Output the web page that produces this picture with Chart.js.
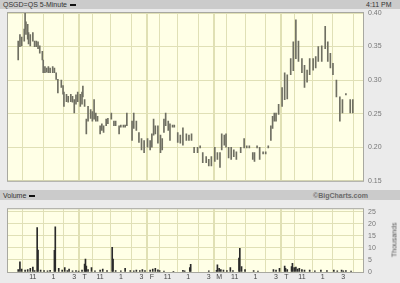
<!DOCTYPE html>
<html>
<head>
<meta charset="utf-8">
<script src="https://cdn.jsdelivr.net/npm/chart.js@4.4.0/dist/chart.umd.min.js"></script>
<style>
    html, body { margin: 0; padding: 0; background: #ebebeb; }
    #wrap { position: relative; width: 400px; height: 283px; overflow: hidden; font-family: "Liberation Sans", Arial, sans-serif; }
    canvas { position: absolute; left: 0; }
    .band { position: absolute; left: 0; width: 400px; background: #cbcbcb; font-size: 7px; color: #333; }
    .band span { position: absolute; top: 1px; white-space: nowrap; }
    .dash { display: inline-block; width: 6px; height: 2px; background: #111; vertical-align: middle; margin-left: 3px; }
    #thou { position: absolute; left: 394px; top: 240px; font-size: 7px; color: #555; transform: translate(-50%, -50%) rotate(-90deg); white-space: nowrap; }
</style>
</head>
<body>
<div id="wrap">
    <canvas id="price" width="400" height="190" style="top:0"></canvas>
    <canvas id="vol" width="400" height="83" style="top:200px"></canvas>
    <div class="band" style="top:0;height:9px">
        <span style="left:3px">QSGD=QS 5-Minute<i class="dash"></i></span>
        <span style="left:366px">4:11 PM</span>
    </div>
    <div class="band" style="top:190px;height:10px">
        <span style="left:3px;top:2px">Volume<i class="dash"></i></span>
        <span style="left:313px;top:2px;color:#6a6a6a;font-weight:bold">©BigCharts.com</span>
    </div>
    <div id="thou">Thousands</div>
</div>
<script>
// 5分钟K线: 每天78根, 共5天
const totalBars = 390;

// x轴刻度 (按K线序号)
const xTickPos = [18, 42, 66, 78, 96, 120, 144, 156, 174, 198, 222, 234, 252, 276, 300, 312, 330, 354, 378];
const xTickLabels = ['11', '1', '3', 'T', '11', '1', '3', 'F', '11', '1', '3', 'M', '11', '1', '3', 'T', '11', '1', '3'];
const dayLines = [78, 156, 234, 312];

const priceTicks = [0.15, 0.20, 0.25, 0.30, 0.35, 0.40];
const volTicks = [0, 5, 10, 15, 20, 25];

// 价格 (最高/最低)
const priceIdx = [1, 3, 5, 8, 9, 10, 12, 13, 15, 18, 20, 22, 24, 26, 29, 30, 32, 34, 36, 38, 41, 43, 45, 47, 51, 53, 54, 57, 59, 62, 64, 66, 68, 70, 73, 75, 76, 78,
    80, 82, 85, 87, 89, 91, 93, 96, 98, 100, 103, 105, 109, 112, 114, 118, 120, 123, 125, 127, 133, 135, 138, 141, 144, 147, 151, 154, 156,
    158, 160, 163, 166, 168, 170, 172, 175, 177, 180, 182, 186, 189, 192, 196, 199, 202, 205, 209, 212, 215, 219, 222, 225, 229, 232, 235,
    237, 240, 242, 245, 248, 251, 254, 259, 263, 266, 269, 273, 275, 278, 281, 285, 288, 291, 294, 296, 298, 300, 303, 307, 310,
    313, 317, 320, 323, 326, 330, 333, 336, 339, 343, 346, 349, 353, 357, 360, 363, 366, 370, 374, 377, 381, 386, 389];
const priceHigh = [0.358, 0.368, 0.364, 0.376, 0.400, 0.387, 0.383, 0.371, 0.368, 0.371, 0.358, 0.358, 0.357, 0.351, 0.343, 0.330, 0.320, 0.318, 0.320, 0.318, 0.320, 0.318, 0.311, 0.301, 0.300, 0.292, 0.282, 0.279, 0.276, 0.279, 0.276, 0.271, 0.278, 0.282, 0.279, 0.282, 0.291, 0.271,
    0.242, 0.261, 0.256, 0.253, 0.271, 0.251, 0.246, 0.232, 0.235, 0.232, 0.242, 0.243, 0.251, 0.239, 0.239, 0.232, 0.233, 0.233, 0.233, 0.251, 0.239, 0.251, 0.239, 0.222, 0.213, 0.210, 0.213, 0.210, 0.220,
    0.242, 0.232, 0.232, 0.218, 0.213, 0.242, 0.251, 0.239, 0.235, 0.233, 0.233, 0.222, 0.218, 0.229, 0.220, 0.218, 0.220, 0.200, 0.200, 0.202, 0.192, 0.186, 0.182, 0.186, 0.200, 0.192, 0.192,
    0.220, 0.218, 0.220, 0.200, 0.200, 0.196, 0.193, 0.200, 0.213, 0.202, 0.202, 0.192, 0.192, 0.202, 0.200, 0.193, 0.193, 0.202, 0.232, 0.246, 0.251, 0.251, 0.264, 0.289, 0.311,
    0.308, 0.332, 0.357, 0.390, 0.358, 0.332, 0.322, 0.315, 0.332, 0.332, 0.335, 0.350, 0.351, 0.380, 0.357, 0.340, 0.325, 0.300, 0.275, 0.271, 0.280, 0.271, 0.271];
const priceLow = [0.330, 0.350, 0.351, 0.358, 0.376, 0.368, 0.361, 0.354, 0.351, 0.358, 0.350, 0.350, 0.347, 0.340, 0.330, 0.311, 0.311, 0.312, 0.311, 0.311, 0.311, 0.311, 0.301, 0.281, 0.289, 0.279, 0.261, 0.268, 0.267, 0.268, 0.267, 0.251, 0.264, 0.268, 0.261, 0.264, 0.275, 0.261,
    0.220, 0.239, 0.243, 0.239, 0.242, 0.239, 0.239, 0.220, 0.225, 0.222, 0.232, 0.235, 0.242, 0.232, 0.232, 0.220, 0.230, 0.230, 0.230, 0.232, 0.210, 0.228, 0.225, 0.207, 0.196, 0.192, 0.200, 0.196, 0.200,
    0.218, 0.220, 0.206, 0.192, 0.196, 0.222, 0.232, 0.225, 0.210, 0.230, 0.230, 0.207, 0.206, 0.203, 0.210, 0.210, 0.210, 0.192, 0.192, 0.199, 0.177, 0.177, 0.172, 0.172, 0.179, 0.182, 0.170,
    0.196, 0.203, 0.200, 0.184, 0.182, 0.186, 0.182, 0.192, 0.199, 0.199, 0.199, 0.182, 0.179, 0.199, 0.182, 0.190, 0.190, 0.199, 0.210, 0.228, 0.239, 0.239, 0.249, 0.261, 0.271,
    0.272, 0.308, 0.314, 0.332, 0.328, 0.311, 0.289, 0.297, 0.308, 0.315, 0.318, 0.328, 0.328, 0.347, 0.328, 0.318, 0.308, 0.275, 0.239, 0.251, 0.278, 0.251, 0.251];

// 成交量 (千股)
const volIdx = [1, 3, 5, 9, 12, 15, 18, 20, 23, 24, 27, 31, 35, 38, 43, 44, 48, 52, 55, 58, 60, 64, 68, 71, 75, 78, 79, 80, 82, 86, 90, 96, 99, 104, 110, 111, 114, 120, 125, 131,
    135, 138, 142, 145, 148, 154, 157, 160, 163, 165, 170, 181, 192, 194, 200, 201, 222, 231, 232, 234, 236, 239, 243, 247, 250, 257, 258, 260, 264, 274, 279,
    297, 300, 304, 310, 311, 313, 318, 319, 321, 323, 325, 327, 330, 333, 339, 345, 352, 359, 367, 371, 376, 378, 381, 387];
const volK = [1.0, 4.2, 1.2, 0.8, 1.0, 1.5, 2.0, 0.6, 18.4, 9.1, 0.8, 0.6, 0.5, 0.7, 9.0, 18.7, 1.5, 0.8, 1.8, 0.6, 1.2, 0.5, 0.6, 0.4, 0.8, 3.3, 5.3, 2.5, 1.0, 1.8, 0.5, 0.8, 1.2, 0.6, 10.2, 5.3, 0.6, 0.5, 1.5, 0.6,
    0.5, 0.8, 0.6, 1.0, 0.6, 0.8, 1.2, 1.5, 0.9, 0.6, 0.4, 0.3, 0.7, 0.5, 1.8, 3.2, 0.5, 0.7, 3.0, 1.5, 1.0, 0.8, 0.6, 1.8, 0.6, 5.8, 9.8, 2.2, 1.0, 0.6, 0.4,
    1.0, 0.8, 1.5, 2.5, 1.5, 1.0, 2.2, 3.6, 1.8, 2.0, 1.2, 1.5, 1.0, 0.8, 0.8, 0.5, 0.8, 0.6, 0.8, 0.5, 0.8, 0.5, 0.6, 0.4];

const gridColor = '#e0e0b6';
const dayColor = '#e0e0b4';

// 绘图区背景和边框
const areaBg = {
    id: 'areaBg',
    beforeDraw(chart) {
        const { ctx, chartArea: a } = chart;
        ctx.save();
        ctx.fillStyle = '#ffffe6';
        ctx.fillRect(a.left, a.top, a.width, a.height);
        ctx.restore();
    },
    afterDraw(chart) {
        const { ctx, chartArea: a } = chart;
        ctx.save();
        ctx.strokeStyle = '#a8a8a0';
        ctx.lineWidth = 1;
        ctx.strokeRect(a.left - 0.5, a.top - 0.5, a.width + 1, a.height + 1);
        ctx.restore();
    }
};

const font7 = { family: '"Liberation Sans", Arial, sans-serif', size: 7 };

function xScale(showLabels) {
    return {
        type: 'linear',
        min: 0,
        max: totalBars,
        afterBuildTicks: (s) => { s.ticks = xTickPos.map(v => ({ value: v })); },
        afterFit: (s) => { s.height = showLabels ? 11 : 0; },
        ticks: {
            display: showLabels,
            autoSkip: false,
            maxRotation: 0,
            padding: 1,
            font: font7,
            color: '#444',
            callback: (v, i) => xTickLabels[i]
        },
        grid: {
            drawTicks: false,
            color: (c) => dayLines.includes(c.tick && c.tick.value) ? dayColor : gridColor,
            lineWidth: (c) => dayLines.includes(c.tick && c.tick.value) ? 2 : 1
        },
        border: { display: false }
    };
}

new Chart(document.getElementById('price').getContext('2d'), {
    type: 'bar',
    data: {
        datasets: [{
            data: priceIdx.map((x, i) => ({ x: x, y: [priceLow[i], priceHigh[i]] })),
            backgroundColor: '#6f6f62',
            barThickness: 1,
            grouped: false
        }]
    },
    options: {
        responsive: false,
        animation: false,
        layout: { padding: { left: 8, top: 13, right: 0, bottom: 3 } },
        plugins: { legend: { display: false }, tooltip: { enabled: false } },
        scales: {
            x: xScale(false),
            y: {
                position: 'right',
                min: 0.15,
                max: 0.40,
                afterBuildTicks: (s) => { s.ticks = priceTicks.map(v => ({ value: v })); },
                afterFit: (s) => { s.width = 37; },
                ticks: { font: font7, color: '#777', padding: 5, callback: (v) => v.toFixed(2) },
                grid: { drawTicks: false, color: gridColor },
                border: { display: false }
            }
        }
    },
    plugins: [areaBg]
});

new Chart(document.getElementById('vol').getContext('2d'), {
    type: 'bar',
    data: {
        datasets: [{
            data: volIdx.map((x, i) => ({ x: x, y: volK[i] })),
            backgroundColor: '#2a2a2a',
            barThickness: 1,
            grouped: false
        }]
    },
    options: {
        responsive: false,
        animation: false,
        layout: { padding: { left: 8, top: 3, right: 0, bottom: 0 } },
        plugins: { legend: { display: false }, tooltip: { enabled: false } },
        scales: {
            x: xScale(true),
            y: {
                position: 'right',
                min: 0,
                max: 26,
                afterBuildTicks: (s) => { s.ticks = volTicks.map(v => ({ value: v })); },
                afterFit: (s) => { s.width = 37; },
                ticks: { font: font7, color: '#777', padding: 5 },
                grid: { drawTicks: false, color: gridColor },
                border: { display: false }
            }
        }
    },
    plugins: [areaBg]
});
</script>
</body>
</html>
